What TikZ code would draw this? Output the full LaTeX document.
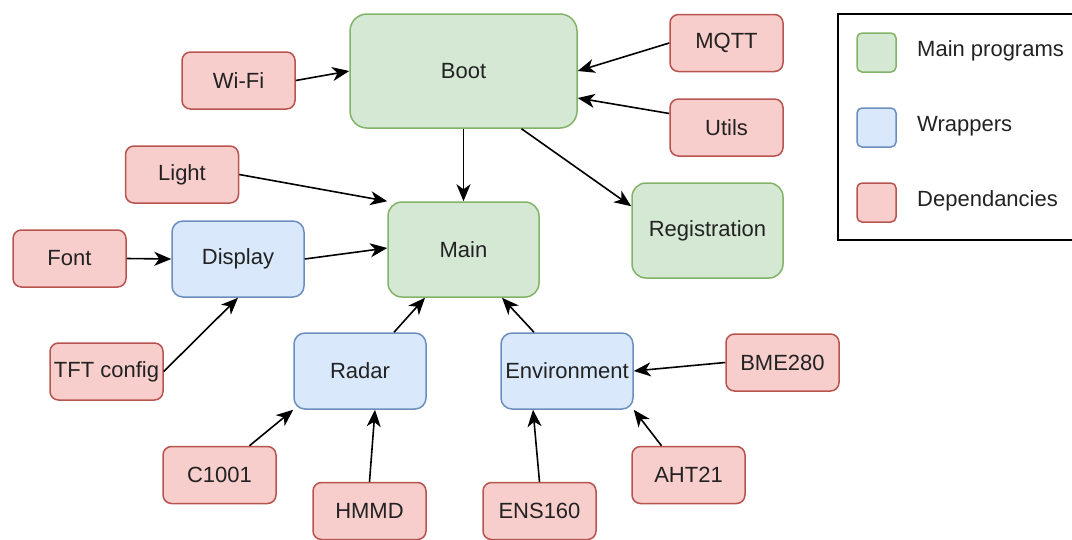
\documentclass[tikz,border=0pt]{standalone}
\usepackage{fontspec}
\setmainfont{Liberation Sans}
\usetikzlibrary{arrows.meta,calc}
\definecolor{gfill}{HTML}{D5E8D4}\definecolor{gdraw}{HTML}{82B366}
\definecolor{bfill}{HTML}{DAE8FC}\definecolor{bdraw}{HTML}{6C8EBF}
\definecolor{rfill}{HTML}{F8CECC}\definecolor{rdraw}{HTML}{B85450}
\definecolor{txt}{HTML}{222222}
\tikzset{
  box/.style={rectangle,inner sep=0pt,line width=1.5pt,text=txt,font=\fontsize{22}{26}\selectfont},
  dep/.style={box,fill=rfill,draw=rdraw,minimum width=113pt,minimum height=57pt,rounded corners=8.5pt},
  wrap/.style={box,fill=bfill,draw=bdraw,minimum width=132pt,minimum height=76pt,rounded corners=11pt},
  prog/.style={box,fill=gfill,draw=gdraw,minimum width=151pt,minimum height=95pt,rounded corners=14pt},
  conn/.style={line width=1.6pt,-{Stealth[length=17pt,width=14pt,inset=5pt]}},
  legsq/.style={rectangle,inner sep=0pt,line width=1.5pt,minimum width=39pt,minimum height=39pt,rounded corners=5pt},
  legtxt/.style={anchor=west,inner sep=0pt,text=txt,font=\fontsize{22}{26}\selectfont}
}
\begin{document}
\begin{tikzpicture}[x=1pt,y=-1pt]
\useasboundingbox (0,0) rectangle (1072,539);
% main programs
\node[prog,minimum width=227pt,minimum height=114pt,rounded corners=17pt] (boot) at (463.5,71) {Boot};
\node[prog] (main) at (463.5,249.5) {Main};
\node[prog] (reg) at (707.5,230.5) {Registration};
% wrappers
\node[wrap] (display) at (238,259) {Display};
\node[wrap] (radar) at (360,371) {Radar};
\node[wrap] (env) at (567,371) {Environment};
% dependencies
\node[dep] (wifi) at (238.5,80.5) {Wi-Fi};
\node[dep] (mqtt) at (726.5,43) {MQTT};
\node[dep] (utils) at (726.5,127.5) {Utils};
\node[dep] (light) at (182,174.5) {Light};
\node[dep] (font) at (69.5,258.5) {Font};
\node[dep] (tft) at (106.5,371.5) {TFT config};
\node[dep] (bme) at (782.5,362.5) {BME280};
\node[dep] (c1001) at (219.5,475) {C1001};
\node[dep] (aht) at (688.5,475) {AHT21};
\node[dep] (hmmd) at (369.5,511) {HMMD};
\node[dep] (ens) at (539.5,511) {ENS160};
% connectors
\draw[conn] (wifi.east) -- (boot.west);
\draw[conn] (mqtt.west) -- (boot.east);
\draw[conn] ($(utils.west)+(0,-14)$) -- ($(boot.east)+(0,27)$);
\draw[conn] (boot.south) -- (main.north);
\draw[conn] ($(boot.south)+(58,0)$) -- ($(reg.north west)+(0,24)$);
\draw[conn] (light.east) -- (main.north west);
\draw[conn] (display.east) -- ($(main.west)+(0,-1.5)$);
\draw[conn] (font.east) -- (display.west);
\draw[conn] (tft.east) -- (display.south);
\draw[conn] ($(radar.north)+(34,0)$) -- ($(main.south)+(-38.5,0)$);
\draw[conn] ($(env.north)+(-33,0)$) -- ($(main.south)+(38.5,0)$);
\draw[conn] ($(c1001.north)+(30,0)$) -- (radar.south west);
\draw[conn] (hmmd.north) -- ($(radar.south)+(15,0)$);
\draw[conn] (bme.west) -- (env.east);
\draw[conn] ($(aht.north)+(-27,0)$) -- (env.south east);
\draw[conn] (ens.north) -- ($(env.south)+(-34,0)$);
% legend
\node[rectangle,draw=black,line width=1.5pt,minimum width=244pt,minimum height=226pt,inner sep=0pt] (legend) at (960,127) {};
\node[legsq,fill=gfill,draw=gdraw] (lg) at (876.5,52.5) {};
\node[legsq,fill=bfill,draw=bdraw] (lb) at (876.5,127.5) {};
\node[legsq,fill=rfill,draw=rdraw] (lr) at (876.5,202.5) {};
\node[legtxt] (lgt) at (917,51) {Main programs};
\node[legtxt] (lbt) at (917,126) {Wrappers};
\node[legtxt] (lrt) at (917,201) {Dependancies};
\end{tikzpicture}
\end{document}
